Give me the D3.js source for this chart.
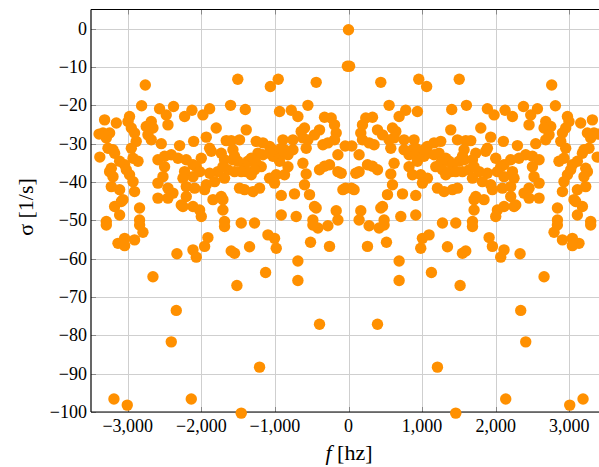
<!DOCTYPE html>
<html>
<head>
<meta charset="utf-8">
<script src="https://cdn.jsdelivr.net/npm/d3@7"></script>
<style>
	body { margin: 0; background: #fff; }
	svg text { font-family: "Times New Roman", "Liberation Serif", Tinos, "DejaVu Serif", serif; fill: #000; }
</style>
</head>
<body>
<svg id="chart" width="599" height="467"></svg>
<script>
// [f in hz, sigma in 1/s]
var centerPoints = [[0, -0.3], [15, -9.8], [-15, -9.8]];

var rightHalf = [
	[439,-14.0],[955,-13.2],[1062,-15.1],[1505,-13.2],[2762,-14.7],[552,-20.0],[778,-21.3],[937,-21.6],
	[1403,-21.1],[1603,-20.0],[1888,-20.9],[1979,-22.5],[2128,-21.3],[2228,-22.9],[2378,-20.3],[2568,-20.9],
	[2477,-22.5],[2454,-25.1],[2812,-20.1],[688,-22.9],[235,-23.3],[326,-23.1],[190,-25.1],[167,-27.2],
	[190,-29.0],[394,-26.4],[462,-27.7],[598,-25.9],[643,-26.8],[620,-28.5],[552,-29.0],[45,-30.6],
	[144,-32.9],[348,-30.3],[280,-29.8],[575,-31.2],[755,-29.0],[891,-29.0],[755,-31.6],[870,-31.6],
	[914,-31.2],[823,-32.9],[914,-32.9],[937,-34.6],[1073,-30.7],[1163,-29.8],[1254,-29.4],[1027,-31.6],
	[1027,-33.3],[1073,-32.5],[1390,-26.4],[1481,-29.0],[1594,-29.2],[1662,-29.2],[1571,-31.6],[1549,-33.3],
	[1163,-32.9],[1231,-32.5],[1322,-33.8],[1367,-34.6],[1254,-35.1],[1186,-36.0],[1277,-36.8],[1322,-38.1],
	[1413,-35.5],[1503,-34.6],[1571,-34.2],[1390,-37.3],[1458,-37.3],[1549,-37.3],[1639,-36.8],[823,-36.0],
	[870,-38.1],[982,-38.1],[1073,-39.0],[1005,-40.3],[1209,-41.6],[1299,-42.5],[1413,-42.0],[1481,-41.6],
	[620,-35.1],[575,-37.9],[99,-37.7],[258,-35.5],[326,-35.9],[394,-36.8],[144,-37.3],[40,-41.6],
	[76,-42.0],[598,-40.7],[530,-43.3],[734,-43.1],[914,-43.5],[167,-47.5],[462,-46.4],[1707,-44.6],
	[1798,-25.9],[1933,-28.3],[1888,-31.2],[1865,-32.0],[1730,-32.5],[1685,-34.2],[2105,-29.4],[2296,-30.5],
	[2545,-30.0],[2409,-32.9],[2318,-33.8],[2205,-34.2],[2114,-35.5],[2500,-33.3],[2590,-34.2],[2001,-33.8],
	[2069,-36.0],[2024,-37.3],[2114,-38.6],[2228,-37.3],[2250,-39.0],[2205,-41.2],[2092,-41.6],[2500,-36.0],
	[2522,-38.6],[2590,-40.3],[2454,-41.6],[1707,-36.0],[1775,-37.3],[1888,-37.7],[1820,-39.9],[1685,-39.0],
	[1933,-40.7],[1956,-42.0],[2861,-34.6],[2929,-33.8],[3043,-35.5],[3020,-36.8],[2976,-38.1],[3224,-36.4],
	[3247,-37.3],[3201,-38.6],[2929,-39.9],[2908,-42.5],[3111,-42.0],[3224,-41.2],[1730,-43.8],[1842,-44.6],
	[2205,-43.8],[2386,-42.9],[2454,-44.2],[2590,-44.2],[2114,-46.4],[2250,-46.4],[2840,-46.8],[3065,-44.6],
	[3179,-46.4],[2681,-24.2],[2749,-25.5],[2658,-25.9],[2726,-27.7],[2681,-29.0],[2976,-22.9],[2997,-24.2],
	[2952,-25.9],[2908,-27.2],[2885,-29.4],[2952,-31.2],[3156,-24.6],[3315,-23.8],[3247,-27.2],[3292,-28.5],
	[3269,-31.2],[3201,-31.6],[3337,-27.2],[3179,-32.5],[3111,-34.6],[258,-56.8],[516,-55.7],[688,-60.6],
	[688,-65.7],[394,-77.1],[1005,-54.7],[1095,-53.8],[982,-57.3],[1127,-63.6],[1209,-88.3],[1458,-100.3],
	[1345,-56.9],[1549,-58.6],[1594,-58.0],[1517,-67.0],[1685,-51.6],[1911,-54.5],[1956,-56.8],[2114,-57.7],
	[2069,-59.6],[2332,-58.7],[2137,-96.6],[2341,-73.5],[2409,-81.7],[2658,-64.7],[2794,-53.1],[2839,-51.2],
	[2908,-55.1],[3043,-54.7],[3133,-56.0],[3043,-56.6],[3292,-51.2],[3007,-98.2],[3188,-96.6],[416,-52.0],
	[280,-51.4],[484,-51.2],[439,-46.8],[484,-49.9],[144,-49.9],[711,-49.0],[914,-48.6],[1277,-50.7],
	[1458,-50.7],[1685,-50.3],[1707,-47.3],[2273,-46.0],[2840,-49.9],[3088,-45.1],[3111,-48.6],[3292,-50.3],
	[2024,-47.3],[2001,-49.0],[3390,-27.5],[3380,-33.5]
];

var leftHalf = [
	[-439,-14.0],[-955,-13.2],[-1062,-15.1],[-1505,-13.2],[-2762,-14.7],[-552,-20.0],[-778,-21.3],[-937,-21.6],
	[-1403,-21.1],[-1603,-20.0],[-1888,-20.9],[-1979,-22.5],[-2128,-21.3],[-2228,-22.9],[-2378,-20.3],[-2568,-20.9],
	[-2477,-22.5],[-2454,-25.1],[-2812,-20.1],[-688,-22.9],[-235,-23.3],[-326,-23.1],[-190,-25.1],[-167,-27.2],
	[-190,-29.0],[-394,-26.4],[-462,-27.7],[-598,-25.9],[-643,-26.8],[-620,-28.5],[-552,-29.0],[-45,-30.6],
	[-144,-32.9],[-348,-30.3],[-280,-29.8],[-575,-31.2],[-755,-29.0],[-891,-29.0],[-755,-31.6],[-870,-31.6],
	[-914,-31.2],[-823,-32.9],[-914,-32.9],[-937,-34.6],[-1073,-30.7],[-1163,-29.8],[-1254,-29.4],[-1027,-31.6],
	[-1027,-33.3],[-1073,-32.5],[-1390,-26.4],[-1481,-29.0],[-1594,-29.2],[-1662,-29.2],[-1571,-31.6],[-1549,-33.3],
	[-1163,-32.9],[-1231,-32.5],[-1322,-33.8],[-1367,-34.6],[-1254,-35.1],[-1186,-36.0],[-1277,-36.8],[-1322,-38.1],
	[-1413,-35.5],[-1503,-34.6],[-1571,-34.2],[-1390,-37.3],[-1458,-37.3],[-1549,-37.3],[-1639,-36.8],[-823,-36.0],
	[-870,-38.1],[-982,-38.1],[-1073,-39.0],[-1005,-40.3],[-1209,-41.6],[-1299,-42.5],[-1413,-42.0],[-1481,-41.6],
	[-620,-35.1],[-575,-37.9],[-99,-37.7],[-258,-35.5],[-326,-35.9],[-394,-36.8],[-144,-37.3],[-40,-41.6],
	[-76,-42.0],[-598,-40.7],[-530,-43.3],[-734,-43.1],[-914,-43.5],[-167,-47.5],[-462,-46.4],[-1707,-44.6],
	[-1798,-25.9],[-1933,-28.3],[-1888,-31.2],[-1865,-32.0],[-1730,-32.5],[-1685,-34.2],[-2105,-29.4],[-2296,-30.5],
	[-2545,-30.0],[-2409,-32.9],[-2318,-33.8],[-2205,-34.2],[-2114,-35.5],[-2500,-33.3],[-2590,-34.2],[-2001,-33.8],
	[-2069,-36.0],[-2024,-37.3],[-2114,-38.6],[-2228,-37.3],[-2250,-39.0],[-2205,-41.2],[-2092,-41.6],[-2500,-36.0],
	[-2522,-38.6],[-2590,-40.3],[-2454,-41.6],[-1707,-36.0],[-1775,-37.3],[-1888,-37.7],[-1820,-39.9],[-1685,-39.0],
	[-1933,-40.7],[-1956,-42.0],[-2861,-34.6],[-2929,-33.8],[-3043,-35.5],[-3020,-36.8],[-2976,-38.1],[-3224,-36.4],
	[-3247,-37.3],[-3201,-38.6],[-2929,-39.9],[-2908,-42.5],[-3111,-42.0],[-3224,-41.2],[-1730,-43.8],[-1842,-44.6],
	[-2205,-43.8],[-2386,-42.9],[-2454,-44.2],[-2590,-44.2],[-2114,-46.4],[-2250,-46.4],[-2840,-46.8],[-3065,-44.6],
	[-3179,-46.4],[-2681,-24.2],[-2749,-25.5],[-2658,-25.9],[-2726,-27.7],[-2681,-29.0],[-2976,-22.9],[-2997,-24.2],
	[-2952,-25.9],[-2908,-27.2],[-2885,-29.4],[-2952,-31.2],[-3156,-24.6],[-3315,-23.8],[-3247,-27.2],[-3292,-28.5],
	[-3269,-31.2],[-3201,-31.6],[-3337,-27.2],[-3179,-32.5],[-3111,-34.6],[-258,-56.8],[-516,-55.7],[-688,-60.6],
	[-688,-65.7],[-394,-77.1],[-1005,-54.7],[-1095,-53.8],[-982,-57.3],[-1127,-63.6],[-1209,-88.3],[-1458,-100.3],
	[-1345,-56.9],[-1549,-58.6],[-1594,-58.0],[-1517,-67.0],[-1685,-51.6],[-1911,-54.5],[-1956,-56.8],[-2114,-57.7],
	[-2069,-59.6],[-2332,-58.7],[-2137,-96.6],[-2341,-73.5],[-2409,-81.7],[-2658,-64.7],[-2794,-53.1],[-2839,-51.2],
	[-2908,-55.1],[-3043,-54.7],[-3133,-56.0],[-3043,-56.6],[-3292,-51.2],[-3007,-98.2],[-3188,-96.6],[-416,-52.0],
	[-280,-51.4],[-484,-51.2],[-439,-46.8],[-484,-49.9],[-144,-49.9],[-711,-49.0],[-914,-48.6],[-1277,-50.7],
	[-1458,-50.7],[-1685,-50.3],[-1707,-47.3],[-2273,-46.0],[-2840,-49.9],[-3088,-45.1],[-3111,-48.6],[-3292,-50.3],
	[-2024,-47.3],[-2001,-49.0],[-3390,-27.5],[-3380,-33.5]
];

var xTicks = [-3000, -2000, -1000, 0, 1000, 2000, 3000];
var yTicks = [0, -10, -20, -30, -40, -50, -60, -70, -80, -90, -100];

var svg = d3.select("#chart");

// plot box (window.top is reserved, hence the names)
var plotLeft = 91, plotRight = 606, plotTop = 9.5, plotBottom = 412;

var x = d3.scaleLinear().domain([-3500, 3500]).range([plotLeft, plotRight]);
var y = d3.scaleLinear().domain([-100, 5]).range([plotBottom, plotTop]);

// Grid
var grid = svg.append("g").attr("stroke", "#cfcfcf").attr("stroke-width", 1);
grid.selectAll("line.vgrid").data(xTicks).enter().append("line")
	.attr("class", "vgrid")
	.attr("x1", function(d) { return Math.round(x(d)) + 0.5; })
	.attr("x2", function(d) { return Math.round(x(d)) + 0.5; })
	.attr("y1", plotTop).attr("y2", plotBottom);
grid.selectAll("line.hgrid").data(yTicks).enter().append("line")
	.attr("class", "hgrid")
	.attr("y1", function(d) { return Math.round(y(d)) + 0.5; })
	.attr("y2", function(d) { return Math.round(y(d)) + 0.5; })
	.attr("x1", plotLeft).attr("x2", plotRight);

// Inner tick marks on the frame
var ticks = svg.append("g").attr("stroke", "#888").attr("stroke-width", 1);
xTicks.forEach(function(d)
{
	var px = Math.round(x(d)) + 0.5;
	ticks.append("line").attr("x1", px).attr("x2", px).attr("y1", plotBottom).attr("y2", plotBottom - 5);
	ticks.append("line").attr("x1", px).attr("x2", px).attr("y1", plotTop).attr("y2", plotTop + 5);
});
yTicks.forEach(function(d)
{
	var py = Math.round(y(d)) + 0.5;
	ticks.append("line").attr("x1", plotLeft).attr("x2", plotLeft + 5).attr("y1", py).attr("y2", py);
});

// Frame
var frame = svg.append("g").attr("stroke", "#000").attr("stroke-width", 1.2);
frame.append("line").attr("x1", plotLeft).attr("x2", plotLeft).attr("y1", plotTop).attr("y2", plotBottom);
frame.append("line").attr("x1", plotLeft).attr("x2", plotRight).attr("y1", plotBottom).attr("y2", plotBottom);
frame.append("line").attr("x1", plotLeft).attr("x2", plotRight).attr("y1", plotTop).attr("y2", plotTop);

// Points
var allPoints = centerPoints.concat(rightHalf, leftHalf);
svg.append("g").selectAll("circle").data(allPoints).enter().append("circle")
	.attr("cx", function(d) { return x(d[0]); })
	.attr("cy", function(d) { return y(d[1]); })
	.attr("r", 5.7)
	.attr("fill", "#ff9000");

// Tick labels
var fmt = d3.format(",");
svg.append("g").selectAll("text").data(xTicks).enter().append("text")
	.attr("x", function(d) { return x(d); })
	.attr("y", 432)
	.attr("text-anchor", "middle")
	.attr("font-size", 18)
	.text(function(d) { return fmt(d); });

svg.append("g").selectAll("text").data(yTicks).enter().append("text")
	.attr("x", 87)
	.attr("y", function(d) { return y(d); })
	.attr("dy", "0.34em")
	.attr("text-anchor", "end")
	.attr("font-size", 18)
	.text(function(d) { return fmt(d); });

// Axis titles
var xTitle = svg.append("text")
	.attr("x", 349).attr("y", 460)
	.attr("text-anchor", "middle")
	.attr("font-size", 22);
xTitle.append("tspan").attr("font-style", "italic").text("f");
xTitle.append("tspan").text(" [hz]");

svg.append("text")
	.attr("transform", "translate(33,207) rotate(-90)")
	.attr("text-anchor", "middle")
	.attr("font-size", 22)
	.text("σ [1/s]");
</script>
</body>
</html>
